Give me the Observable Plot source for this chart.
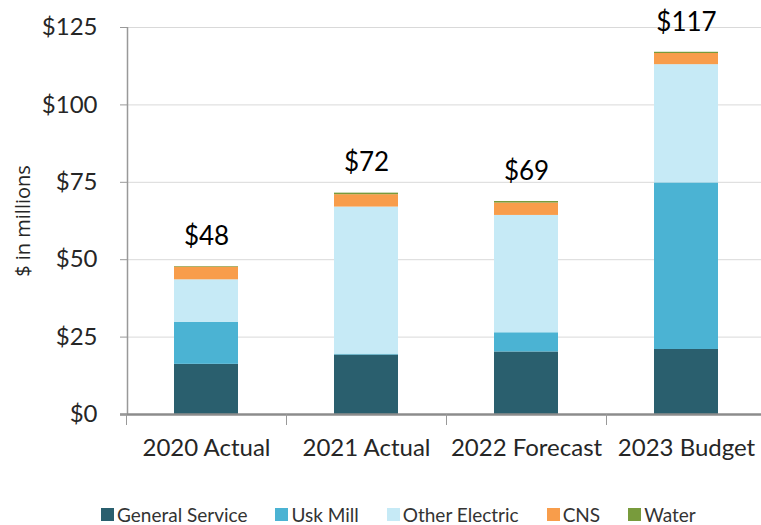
<!DOCTYPE html>
<html><head><meta charset="utf-8">
<script src="https://cdn.jsdelivr.net/npm/d3@7"></script>
<script src="https://cdn.jsdelivr.net/npm/@observablehq/plot@0.6"></script>
<style>
body{margin:0;background:#fff;font-family:Lato,sans-serif;}
#wrap{position:relative;width:761px;height:525px;overflow:hidden;}
#legend{position:absolute;left:101px;top:505px;display:flex;gap:28px;font-size:19px;color:#333;line-height:19px;}
.item{display:flex;align-items:center;gap:3px;white-space:nowrap}
.sw{width:13px;height:13px;display:inline-block}
</style></head><body><div id="wrap"><div id="chart"></div><div id="legend"></div></div>
<script>
const categories = ["2020 Actual","2021 Actual","2022 Forecast","2023 Budget"];
const series = ["General Service","Usk Mill","Other Electric","CNS","Water"];
const generalService = [16.2,19.2,20.2,21.0];
const uskMill = [13.6,0.3,6.2,53.8];
const otherElectric = [13.7,47.5,37.9,38.2];
const cns = [4.1,4.0,4.0,3.6];
const water = [0.2,0.5,0.5,0.4];
const totalLabels = ["$48","$72","$69","$117"];
const colors = ["#2a5f6e","#4bb3d3","#c6eaf6","#f89d4b","#789b3c"];
const yTicks = [0,25,50,75,100,125];

const values = [generalService, uskMill, otherElectric, cns, water];
const rows = [];
categories.forEach((c,i)=>series.forEach((s,j)=>rows.push({category:c, series:s, value:values[j][i]})));
const totals = categories.map((c,i)=>({category:c, total:values.reduce((a,v)=>a+v[i],0), label:totalLabels[i]}));

const plot = Plot.plot({
  width:761, height:480, marginTop:27, marginBottom:66, marginLeft:127, marginRight:0,
  x:{domain:categories, range:[126,766], paddingInner:0.6, paddingOuter:0.3, label:null},
  y:{domain:[0,125], label:null},
  color:{domain:series, range:colors},
  style:{fontFamily:"Lato, sans-serif", color:"#262626", background:"#fff"},
  marks:[
    Plot.gridY(yTicks,{stroke:"#d9d9d9", strokeOpacity:1}),
    Plot.barY(rows,{x:"category", y:"value", fill:"series"}),
    Plot.ruleX([categories[0]],{dx:-79, y1:0, y2:125, stroke:"#999", strokeWidth:1.5}),
    Plot.ruleY([0],{stroke:"#8c8c8c", strokeWidth:2.5, insetLeft:-7}),
    Plot.axisY({ticks:yTicks, tickFormat:d=>"$"+d, tickSize:7, tickPadding:23, fontSize:24, stroke:"#999", label:null}),
    Plot.axisY({ticks:[], label:"$ in millions", labelAnchor:"center", labelOffset:112, labelArrow:"none", fontSize:20, fontFamily:"Open Sans, sans-serif"}),
    Plot.axisX({tickSize:0, tickPadding:24, fontSize:24, label:null}),
    Plot.axisX({tickSize:11, tickFormat:()=>"", dx:-80, stroke:"#999", label:null}),
    Plot.text(totals,{x:"category", y:"total", text:"label", dy:-30, fontSize:26, fill:"#000"})
  ]
});
document.getElementById("chart").appendChild(plot);

const legend = document.getElementById("legend");
series.forEach((s,j)=>{
  const it = document.createElement("div"); it.className="item";
  const sw = document.createElement("span"); sw.className="sw"; sw.style.background=colors[j];
  const t = document.createElement("span"); t.textContent=s;
  it.appendChild(sw); it.appendChild(t); legend.appendChild(it);
});
</script></body></html>
